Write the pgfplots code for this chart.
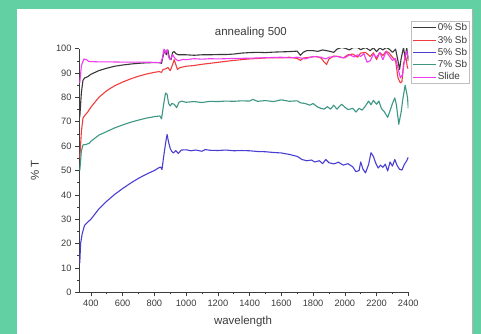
\documentclass[border=0pt]{standalone}
\usepackage{pgfplots}
\pgfplotsset{compat=1.18}
\usepackage{fontspec}
\setmainfont{Liberation Sans}
\definecolor{bgG}{RGB}{98,208,162}
\definecolor{cBlack}{RGB}{55,55,55}
\definecolor{cRed}{RGB}{240,60,60}
\definecolor{cBlue}{RGB}{72,62,210}
\definecolor{cTeal}{RGB}{60,150,132}
\definecolor{cMag}{RGB}{240,60,240}
\definecolor{txt}{RGB}{60,60,60}
\begin{document}
\begin{tikzpicture}
\useasboundingbox (0,0) rectangle (481bp,334bp);
\fill[bgG] (0,0) rectangle (481bp,334bp);
\fill[white] (16.7bp,0) rectangle (472bp,325bp);
\draw[gray!60,line width=1bp] (472bp,0) -- (472bp,325bp);
\begin{axis}[
  at={(79bp,41.7bp)}, anchor=south west,
  scale only axis, width=329.3bp, height=243.6bp,
  xmin=325, xmax=2400, ymin=0, ymax=100,
  axis x line*=bottom, axis y line*=left,
  axis line style={-, txt, line width=0.7pt},
  tick style={txt, line width=0.6pt},
  tick align=outside, major tick length=4bp, minor tick length=2bp,
  xtick={400,600,...,2400}, ytick={0,10,...,100},
  minor x tick num=1, minor y tick num=1,
  /pgf/number format/assume math mode=true,
  /pgf/number format/1000 sep={},
  ticklabel style={font=\fontsize{9.3}{10}\selectfont, text=txt},
  every axis title shift=0pt,
  title={annealing 500},
  title style={at={(0.522,1.068)}, anchor=center, font=\fontsize{11.5}{13}\selectfont, text=txt},
  xlabel={wavelength},
  xlabel style={at={(0.498,-0.12)}, anchor=center, font=\fontsize{11.5}{13}\selectfont, text=txt},
  ylabel={\% T},
  ylabel style={at={(-0.134,0.5)}, anchor=center, font=\fontsize{11.5}{13}\selectfont, text=txt},
  legend style={at={(1.008,1.114)}, anchor=north west, draw=gray!50, line width=0.6pt,
    font=\fontsize{10}{11}\selectfont, text=txt, inner xsep=1pt, inner ysep=0.8pt,
    row sep=0.6pt, nodes={inner sep=1.5pt}},
  legend cell align=left,
  legend image code/.code={\draw[#1] (0bp,0bp) -- (23bp,0bp);},
  clip=true,
  every axis plot/.append style={line width=1.1pt, line join=round},
]
\addplot[cBlack] coordinates {
(330,72) (340,82) (350,87) (360,88) (380,88.5) (400,89.5) (450,91) (500,92) (550,92.8) (600,93.3) (650,93.7) (700,94) (750,94.2) (800,94.3) (830,94.3) (845,94) (855,97) (865,99.5) (875,97.5) (885,99.5) (895,96) (905,95.5) (915,98.5) (925,98.8) (935,98) (950,97.5) (1000,97.5) (1050,97.3) (1100,97.5) (1150,97.5) (1200,97.6) (1250,97.6) (1300,97.8) (1350,98.2) (1400,98.4) (1450,98.5) (1500,98.4) (1550,98.6) (1600,98.7) (1650,98.8) (1700,99) (1720,97.3) (1740,98.6) (1760,99.2) (1800,99.2) (1830,98.9) (1860,99.5) (1900,99) (1930,98.5) (1950,99.8) (1980,100.5) (2000,100.2) (2030,99.5) (2050,100.4) (2080,100.5) (2100,99.6) (2130,100.5) (2160,99.2) (2180,100.4) (2200,98.8) (2220,100.3) (2240,99.5) (2260,100.5) (2280,99.8) (2300,98.5) (2320,99.8) (2335,95) (2345,91.5) (2355,96) (2370,100.5) (2380,96) (2390,100.5) (2400,95)
};
\addlegendentry{0\% Sb}
\addplot[cRed] coordinates {
(330,55) (340,66) (350,71.5) (360,72.5) (380,74) (400,76) (450,80) (500,82.8) (550,84.8) (600,86.3) (650,87.6) (700,88.7) (750,89.6) (800,90.3) (830,90.6) (845,90.3) (855,91.5) (870,91.7) (885,92.3) (900,91) (915,93.5) (925,95.5) (935,93.5) (945,91.5) (960,92.2) (1000,92.8) (1050,93.1) (1100,93.6) (1150,94) (1200,94.4) (1250,94.8) (1300,95.2) (1350,95.5) (1400,95.8) (1450,96) (1500,96.2) (1550,96.3) (1600,96.2) (1650,96.5) (1700,96) (1720,95.2) (1740,96.2) (1780,96.5) (1820,96.8) (1850,96.2) (1870,94.5) (1885,93.5) (1900,95.8) (1930,97) (1960,96.8) (1990,96.2) (2020,97.5) (2050,97.8) (2080,96.5) (2100,98.2) (2130,98.5) (2160,96.8) (2180,98.3) (2200,95.5) (2220,98.4) (2240,97.2) (2260,99) (2280,98.2) (2300,96.5) (2320,95) (2335,88) (2350,86) (2360,86.5) (2370,94) (2385,96.5) (2395,92) (2400,92)
};
\addlegendentry{3\% Sb}
\addplot[cBlue] coordinates {
(330,12) (335,20) (345,24) (360,27.5) (380,28.8) (400,30) (450,34.2) (500,37.4) (550,40.2) (600,42.6) (650,44.8) (700,46.8) (750,48.5) (800,50) (830,51.2) (840,51.4) (848,50.4) (858,55.5) (870,61) (880,64.8) (890,61.5) (900,59) (910,57.8) (920,57.2) (935,58.2) (950,57) (970,58.4) (1000,58.5) (1030,58.1) (1060,58.4) (1100,57.9) (1120,58.6) (1150,58.3) (1200,58.2) (1250,58.4) (1300,58.1) (1350,58.2) (1400,58.1) (1450,57.8) (1500,57.7) (1550,57.4) (1600,57.2) (1650,56.6) (1700,55.8) (1730,54.5) (1760,54) (1790,54.3) (1810,53.5) (1840,54) (1860,52.8) (1880,54.5) (1900,53.2) (1930,52.7) (1960,53.4) (1990,52.2) (2020,52.8) (2050,51.5) (2070,49.5) (2090,50) (2100,53.5) (2115,50.5) (2130,49) (2150,52.5) (2165,57.3) (2180,55.8) (2195,53) (2210,51) (2225,52.2) (2240,51.3) (2255,52.6) (2270,49.8) (2285,53.5) (2300,51.8) (2315,54.5) (2330,52) (2345,50.5) (2360,50.2) (2375,52.5) (2390,54) (2400,55.5)
};
\addlegendentry{5\% Sb}
\addplot[cTeal] coordinates {
(330,50) (340,58) (350,60.5) (370,60.7) (390,61.2) (400,62) (450,64.5) (500,66) (550,67.5) (600,68.7) (650,69.8) (700,70.7) (750,71.5) (800,72.1) (835,72.4) (845,71.2) (858,77) (870,81.8) (880,81.3) (890,77.5) (900,76.5) (910,77.5) (925,77.2) (940,75.8) (955,78) (970,78.5) (1000,78) (1050,78.3) (1100,77.9) (1150,78.4) (1200,78.3) (1250,78.5) (1300,78.4) (1350,78.6) (1400,78.5) (1420,79.2) (1450,78.4) (1500,78.7) (1550,78.3) (1600,79) (1650,78.4) (1700,78.6) (1720,77.8) (1750,77.5) (1780,76.8) (1800,77.5) (1830,76) (1850,75.5) (1870,75.2) (1890,76.2) (1910,75.2) (1930,76.8) (1950,75.2) (1980,77.2) (2000,76) (2020,75) (2050,75.5) (2070,74) (2090,75.5) (2110,74.8) (2130,76.5) (2150,78.5) (2165,77) (2180,78.8) (2200,77.2) (2215,78.5) (2230,75.5) (2250,74) (2270,71.8) (2285,74.5) (2300,77.5) (2315,79.8) (2325,77) (2340,69) (2355,74) (2365,79) (2380,85) (2395,80) (2400,75.5)
};
\addlegendentry{7\% Sb}
\addplot[cMag] coordinates {
(330,86) (340,93) (355,95.7) (370,95.6) (385,94.8) (400,94.7) (450,94.6) (500,94.6) (600,94.5) (700,94.5) (800,94.4) (840,94.2) (850,96) (860,99.8) (870,98.2) (880,99.6) (890,96.5) (900,95.5) (915,97.5) (930,96) (950,95) (980,95.6) (1000,95.5) (1050,95.9) (1100,95.7) (1150,95.9) (1200,95.8) (1300,96) (1400,96.1) (1500,96.3) (1600,96.5) (1650,96.2) (1700,96.5) (1750,95.8) (1800,96.8) (1850,96.5) (1880,95.8) (1900,96.5) (1950,96.8) (2000,96.2) (2030,97.5) (2060,96.6) (2080,97.5) (2100,96.8) (2120,98) (2140,94.5) (2160,95) (2180,97.8) (2200,96.4) (2220,98.5) (2240,95.5) (2260,98.8) (2280,97) (2300,95.2) (2320,96) (2335,92) (2350,88) (2365,89.5) (2380,97.5) (2390,99) (2400,96)
};
\addlegendentry{Slide}
\end{axis}
\end{tikzpicture}
\end{document}
